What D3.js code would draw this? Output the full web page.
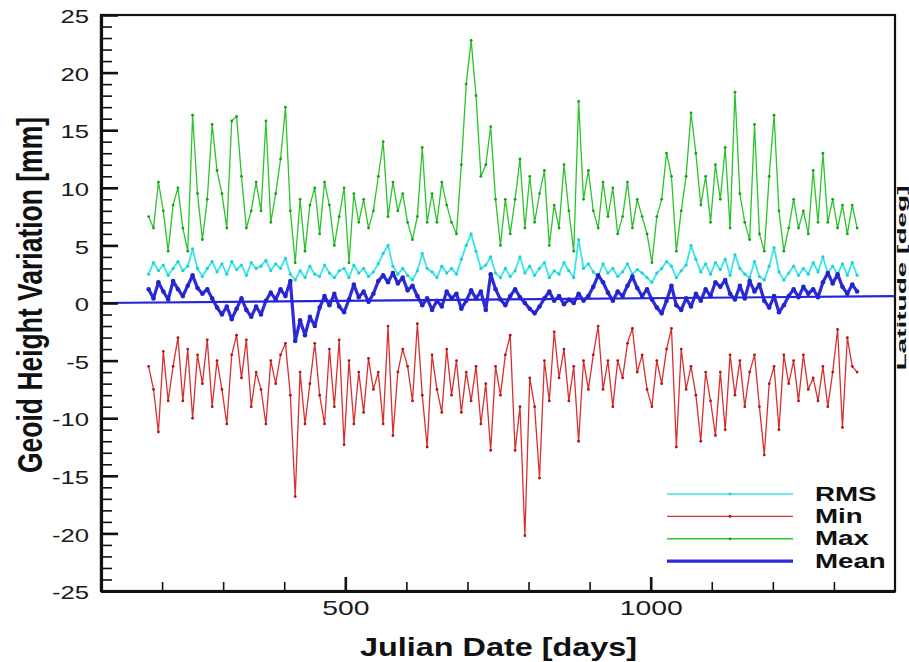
<!DOCTYPE html>
<html><head><meta charset="utf-8">
<script src="https://cdn.jsdelivr.net/npm/d3@7"></script>
<style>
body{margin:0;background:#fff}
svg{display:block}
text{font-family:"Liberation Sans",Arial,Helvetica,sans-serif}
</style>
</head><body>
<svg id="c" width="909" height="662"></svg>
<script>
// ---- data ----
const startDay = 178, stepDays = 8;
const maxVals = [7.5,6.5,10.5,8,4.5,8.5,10,6.5,4.5,16.3,
 9.5,5.5,9,15.5,11.5,9.5,6.5,15.8,16.2,11,
 6.5,8,10.5,8,15.8,7,9.5,12.5,17,8,
 3.5,9,4.5,8.5,10,6,10.5,8.5,5,7.5,
 10,3.5,9.5,7,9,6.5,8,11,14,7.5,
 10.5,8,9.5,7,5.5,7.5,13.5,7,9.5,7,
 10.5,8.5,7,6,12,19,22.8,18,11,12,
 15.3,9,5,9,6,9,12.5,6.5,11,7,
 9.5,11.5,5,8.5,6.5,12,8,4.5,17.5,9,
 11.5,8,6.5,10.5,7.5,10,6,7.5,10.5,6.5,
 9,7.5,6,3.5,7.5,9,13,11,4.5,8,
 11,16.5,13,8.5,11,7,12,9,13.5,6.5,
 18.3,9.5,7,5.5,15.5,6,4.5,11,16.3,8,
 4.5,6.5,9,6.5,8,6,11.5,7,13,7,
 9,6.5,8.5,6,8.5,6.5];
const rmsVals = [2.5,3.5,2.8,3.3,2.4,3.0,3.6,2.8,3.2,4.7,
 3.0,2.3,3.0,3.6,2.7,3.4,2.5,3.6,2.9,3.3,
 2.4,3.5,3.0,3.2,3.7,2.8,3.4,3.0,3.9,2.5,
 2.0,2.8,2.2,3.2,2.5,2.3,3.3,2.6,2.2,2.8,
 3.0,2.2,3.3,2.6,3.0,2.3,2.7,3.4,4.3,5.0,
 3.2,2.5,3.0,2.4,2.0,2.8,4.3,3.0,2.7,2.2,
 3.2,2.6,3.0,2.5,3.8,5.0,6.0,4.5,3.0,3.3,
 4.0,2.6,2.2,3.0,2.3,2.8,4.0,2.6,3.2,2.4,
 3.0,3.5,2.2,2.8,2.5,3.5,2.8,2.2,5.5,3.0,
 3.4,2.7,2.3,3.4,2.6,3.0,2.3,2.7,3.4,2.5,
 2.9,2.6,2.2,1.8,2.6,3.0,3.6,3.2,2.2,2.8,
 3.3,5.0,3.8,2.7,3.4,2.5,3.5,2.9,3.8,2.4,
 4.2,3.0,2.5,2.2,3.6,2.3,2.0,3.2,4.8,2.7,
 2.0,2.6,3.2,2.4,3.0,2.5,3.5,2.7,4.0,2.6,
 3.2,2.5,3.4,2.4,3.5,2.4];
const minVals = [-5.5,-7.5,-11.2,-4.2,-8.5,-5.5,-3.0,-8.5,-4.0,-10.0,
 -4.5,-7.0,-3.2,-9.0,-5.0,-7.5,-10.5,-4.5,-2.8,-6.5,
 -3.2,-9.0,-6.0,-7.5,-10.5,-5.0,-7.0,-4.5,-3.5,-8.0,
 -16.8,-6.0,-10.5,-7.0,-3.5,-8.0,-10.5,-4.0,-9.0,-3.2,
 -12.3,-5.0,-10.5,-6.0,-9.5,-4.8,-7.5,-6.0,-10.5,-2.0,
 -11.5,-6.0,-4.0,-5.5,-8.5,-1.8,-8.0,-12.5,-4.5,-7.5,
 -9.5,-4.0,-8.0,-5.0,-9.5,-6.0,-8.5,-5.5,-10.5,-7.0,
 -12.8,-5.5,-8.0,-4.5,-2.8,-12.8,-9.0,-20.2,-6.5,-9.0,
 -15.2,-5.0,-8.5,-2.5,-6.5,-4.0,-8.5,-5.5,-12.0,-5.0,
 -7.5,-4.5,-2.0,-7.5,-5.0,-9.0,-5.0,-6.5,-3.5,-2.2,
 -6.0,-4.5,-7.5,-9.0,-5.0,-7.0,-4.0,-2.2,-12.5,-4.0,
 -7.5,-5.5,-8.0,-12.0,-6.0,-8.5,-11.5,-6.0,-11.0,-4.5,
 -8.0,-5.0,-9.0,-6.0,-4.5,-9.0,-13.2,-7.0,-5.5,-11.0,
 -4.5,-7.0,-5.0,-8.5,-4.5,-7.5,-6.5,-8.5,-5.5,-9.0,
 -6.0,-2.3,-10.8,-3.0,-5.5,-6.0];
const meanVals = [1.2,0.4,1.8,1.0,0.3,1.9,1.2,0.6,1.5,2.4,
 1.3,0.8,1.2,0.4,-0.4,-1.0,-0.3,-1.4,-0.5,0.4,
 -0.6,-1.2,-0.3,-1.0,0.2,0.9,0.3,1.2,0.6,1.9,
 -3.3,-1.5,-2.8,-1.2,-2.0,-0.4,0.6,-0.2,0.8,-0.3,
 -0.8,0.3,1.6,0.5,1.0,0.1,0.8,1.9,2.4,1.8,
 2.6,1.7,2.2,1.1,1.5,0.6,-0.2,0.4,-0.6,0.2,
 -0.3,1.0,0.4,0.8,-0.5,0.2,1.1,0.4,1.0,-0.6,
 2.5,1.2,0.3,-0.2,0.6,1.2,0.5,0.0,-0.5,-0.9,
 -0.3,0.4,1.0,0.2,0.6,-0.1,0.3,0.0,0.8,0.2,
 0.6,1.4,2.4,1.8,0.9,0.2,1.0,0.6,1.5,2.3,
 1.3,0.6,1.2,0.3,-0.4,-0.9,0.2,1.5,-0.2,-0.6,
 0.4,-0.3,0.8,0.2,1.2,0.6,1.8,1.4,2.0,0.8,
 0.3,1.5,0.4,1.9,1.0,1.6,0.2,-0.4,0.6,-0.8,
 -0.2,0.6,1.2,0.5,1.4,0.8,1.2,0.5,1.8,2.6,
 1.7,2.5,1.4,0.8,1.6,1.0];
const trendDays = [100, 1400];
const trendVals = [0.0, 0.6];
const xTickMajor = [500, 1000];
const xTickMinor = [200, 300, 400, 600, 700, 800, 900, 1100, 1200, 1300];
const yTickMajor = [-25, -20, -15, -10, -5, 0, 5, 10, 15, 20, 25];
const legendNames = ["RMS", "Min", "Max", "Mean"];
const xTitle = "Julian Date [days]";
const yTitle = "Geoid Height Variation [mm]";
const sideTitle = "Latitude [deg]";

const days = maxVals.map((_, i) => startDay + i * stepDays);

// ---- layout ----
const L = 101, R = 895, T = 15, B = 591;
const x = d3.scaleLinear().domain([100, 1400]).range([L, R]);
const y = d3.scaleLinear().domain([-25, 25]).range([B, T]);
const svg = d3.select("#c");
const STRETCH = 1.35;
function stretch(sel, f) {
  sel.each(function () {
    const l = this.getComputedTextLength();
    d3.select(this).attr("textLength", l * f).attr("lengthAdjust", "spacingAndGlyphs");
  });
}
const plainFmt = d => String(d);   // hyphen-minus like the reference

const styles = {
  Max:  {vals: maxVals,  line: "#2cc42c", dot: "#14a014", w: 1.3, r: 1.4},
  RMS:  {vals: rmsVals,  line: "#38e6ea", dot: "#22cfd4", w: 1.8, r: 1.6},
  Min:  {vals: minVals,  line: "#d83030", dot: "#b01414", w: 1.3, r: 1.4},
  Mean: {vals: meanVals, line: "#2b2bdc", dot: "#2323c8", w: 3.2, r: 2.3}
};
const drawOrder = ["Max", "RMS", "Min", "Mean"];
const lineGen = d3.line().x((d, i) => x(days[i])).y(d => y(d));

const plot = svg.append("g");
drawOrder.forEach(k => {
  const s = styles[k];
  plot.append("path").datum(s.vals).attr("d", lineGen)
    .attr("fill", "none").attr("stroke", s.line).attr("stroke-width", s.w)
    .attr("stroke-linejoin", "round");
  plot.append("g").selectAll("circle").data(s.vals).join("circle")
    .attr("cx", (d, i) => x(days[i])).attr("cy", d => y(d)).attr("r", s.r)
    .attr("fill", s.dot);
});
// trend line
plot.append("path").datum(trendVals)
  .attr("d", d3.line().x((d, i) => x(trendDays[i])).y(d => y(d)))
  .attr("stroke", "#2424d8").attr("stroke-width", 2.2).attr("fill", "none");

// frame
svg.append("rect").attr("x", L).attr("y", T).attr("width", R - L).attr("height", B - T)
  .attr("fill", "none").attr("stroke", "#111").attr("stroke-width", 2.2);

// y axis
const yMinor = d3.range(-25, 26, 1).filter(v => v % 5 !== 0);
const gyMin = svg.append("g").attr("transform", `translate(${L},0)`)
  .call(d3.axisLeft(y).tickValues(yMinor).tickSize(-11).tickSizeOuter(0).tickFormat(""));
gyMin.selectAll(".tick line").attr("stroke", "#111").attr("stroke-width", 1.6);
gyMin.select(".domain").remove();
const gy = svg.append("g").attr("transform", `translate(${L},0)`)
  .call(d3.axisLeft(y).tickValues(yTickMajor).tickSize(-17).tickSizeOuter(0).tickPadding(12)
    .tickFormat(plainFmt));
gy.select(".domain").attr("stroke", "#111").attr("stroke-width", 3.2);
gy.selectAll(".tick line").attr("stroke", "#111").attr("stroke-width", 2.6);
gy.selectAll(".tick text").attr("font-size", 19).attr("fill", "#1a1a1a").attr("dy", "0.4em")
  .style("font-family", '"Liberation Sans",Arial,sans-serif');
stretch(gy.selectAll(".tick text"), STRETCH);

// x axis
const gxMin = svg.append("g").attr("transform", `translate(0,${B})`)
  .call(d3.axisBottom(x).tickValues(xTickMinor).tickSize(-9).tickSizeOuter(0).tickFormat(""));
gxMin.selectAll(".tick line").attr("stroke", "#111").attr("stroke-width", 1.6);
gxMin.select(".domain").remove();
const gx = svg.append("g").attr("transform", `translate(0,${B})`)
  .call(d3.axisBottom(x).tickValues(xTickMajor).tickSize(-14).tickSizeOuter(0).tickPadding(9)
    .tickFormat(plainFmt));
gx.select(".domain").attr("stroke", "#111").attr("stroke-width", 3.2);
gx.selectAll(".tick line").attr("stroke", "#111").attr("stroke-width", 2.6);
gx.selectAll(".tick text").attr("font-size", 21).attr("fill", "#1a1a1a")
  .style("font-family", '"Liberation Sans",Arial,sans-serif');
stretch(gx.selectAll(".tick text"), STRETCH);

// titles
svg.append("text").attr("x", 498.5).attr("y", 656).attr("text-anchor", "middle")
  .attr("font-size", 26).attr("font-weight", "bold").attr("fill", "#111")
  .attr("textLength", 277).attr("lengthAdjust", "spacingAndGlyphs").text(xTitle);
svg.append("text").attr("transform", "translate(42,295) rotate(-90) scale(1,1.35)")
  .attr("text-anchor", "middle").attr("font-size", 26).attr("font-weight", "bold")
  .attr("fill", "#111").attr("textLength", 356).attr("lengthAdjust", "spacingAndGlyphs")
  .text(yTitle);
// side title of the neighbouring panel, squeezed into the right margin
svg.append("text").attr("transform", "translate(906,278) rotate(-90)")
  .attr("text-anchor", "middle").attr("font-size", 12.5).attr("font-weight", "bold")
  .attr("fill", "#111").attr("textLength", 185).attr("lengthAdjust", "spacingAndGlyphs")
  .text(sideTitle);

// legend
const legY0 = 494, legDy = 22.4, legX1 = 667, legX2 = 793, legTx = 815;
const leg = svg.append("g");
legendNames.forEach((n, i) => {
  const s = styles[n];
  const yy = legY0 + i * legDy;
  leg.append("line").attr("x1", legX1).attr("x2", legX2).attr("y1", yy).attr("y2", yy)
    .attr("stroke", s.line).attr("stroke-width", n === "Mean" ? 3.2 : 1.4);
  if (n !== "Mean") {
    leg.append("circle").attr("cx", (legX1 + legX2) / 2).attr("cy", yy).attr("r", 1.4).attr("fill", s.dot);
  }
  const t = leg.append("text").attr("x", legTx).attr("y", yy + 6.5)
    .attr("font-size", 19.5).attr("font-weight", "bold").attr("fill", "#111").text(n);
  stretch(t, 1.42);
});
</script>
</body></html>
